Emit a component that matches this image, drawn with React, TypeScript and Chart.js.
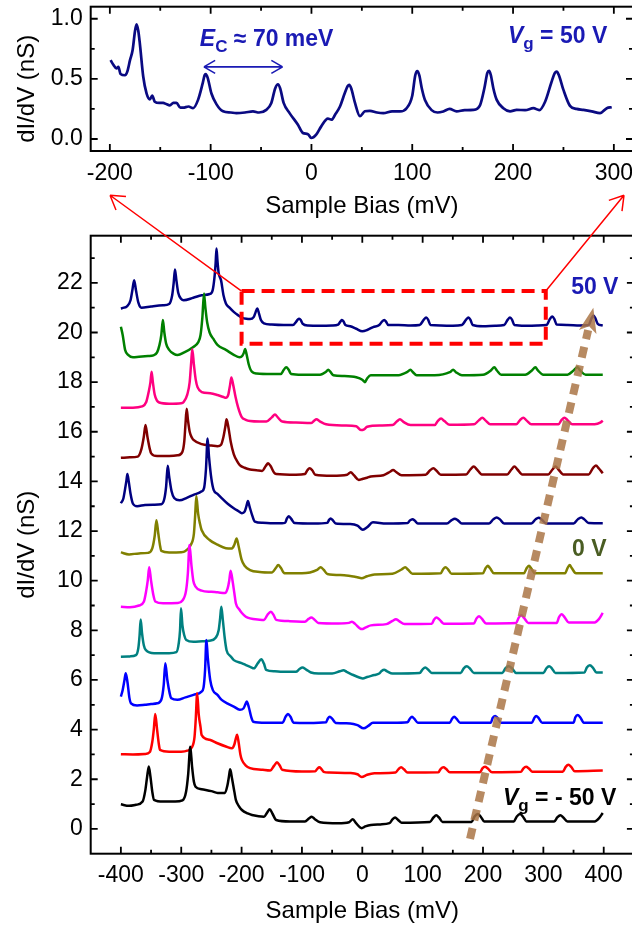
import React, { useEffect, useRef } from 'react';
import { Chart, registerables } from 'chart.js';

Chart.register(...registerables);

const FONT = '"Liberation Sans", Arial, Helvetica, sans-serif';
const TEXT_BLUE = '#1a1ab4';

// ---------- tick labels ----------
const topBiasTicks = [-200, -100, 0, 100, 200, 300];
const topDidvTicks = [0, 0.5, 1.0];
const bottomBiasTicks = [-400, -300, -200, -100, 0, 100, 200, 300, 400];
const bottomDidvTicks = [0, 2, 4, 6, 8, 10, 12, 14, 16, 18, 20, 22];

// ---------- top panel: Vg = 50 V (bias mV, dI/dV nS) ----------
const topVg50 = [
  [-199.3, 0.656], [-196.7, 0.62], [-193.4, 0.587], [-191.5, 0.6], [-189.4, 0.54], [-185, 0.53], [-182.7, 0.56],
  [-180, 0.656], [-177.4, 0.74], [-175, 0.9], [-173.5, 0.953], [-171.8, 0.9], [-170.2, 0.79], [-166.9, 0.52],
  [-163.6, 0.38], [-160.3, 0.33], [-158, 0.36], [-155.4, 0.31], [-151, 0.3], [-147.1, 0.3], [-144, 0.29],
  [-140.5, 0.28], [-137, 0.3], [-133.9, 0.3], [-130, 0.26], [-127.3, 0.26], [-122, 0.27], [-117.4, 0.256],
  [-112.5, 0.325], [-108, 0.46], [-106, 0.53], [-104.9, 0.54], [-103, 0.51], [-99.3, 0.38], [-94.3, 0.29],
  [-87.7, 0.23], [-80, 0.22], [-74.5, 0.215], [-66, 0.22], [-58, 0.23], [-52, 0.22], [-44.8, 0.242], [-39.8, 0.3],
  [-36, 0.42], [-33.2, 0.455], [-31, 0.42], [-27.6, 0.3], [-21.7, 0.215], [-13.4, 0.118], [-8.5, 0.05], [-3.5, 0.04],
  [-0.2, 0.008], [4.7, 0.036], [9.7, 0.105], [16.3, 0.17], [20, 0.16], [23.3, 0.2], [28.3, 0.27], [33, 0.38],
  [36, 0.44], [37.5, 0.45], [39.5, 0.42], [43.2, 0.3], [48.1, 0.19], [53, 0.23], [58, 0.234], [65, 0.22],
  [71.3, 0.215], [80, 0.23], [87.8, 0.229], [94.4, 0.256], [100, 0.36], [103, 0.53], [105, 0.565], [107, 0.53],
  [109.5, 0.42], [112.6, 0.325], [119.2, 0.24], [125, 0.22], [130.8, 0.229], [137, 0.25], [144, 0.229],
  [152, 0.24], [160.6, 0.242], [167.2, 0.28], [171.5, 0.42], [174.5, 0.55], [176.2, 0.567], [178, 0.53],
  [180.5, 0.42], [183.8, 0.325], [190.4, 0.256], [197, 0.23], [203.6, 0.242], [212, 0.24], [220.2, 0.256],
  [226, 0.24], [231.8, 0.31], [238, 0.47], [241.5, 0.55], [243.3, 0.56], [245.5, 0.53], [249.9, 0.41],
  [256.5, 0.275], [263, 0.25], [269.8, 0.242], [278, 0.23], [286.3, 0.215], [293, 0.256], [297.9, 0.264],
];

// ---------- bottom panel: gate-voltage series (bias mV, dI/dV nS incl. offset) ----------
const vgM50 = [
  [-400, 0.99], [-386.5, 0.93], [-375, 0.97], [-364, 1.1], [-359.5, 1.55], [-356.5, 2.1], [-353.8, 2.51], [-351, 2.1],
  [-348, 1.5], [-345.1, 1.17], [-330, 1.1], [-310, 1.1], [-298, 1.15], [-292, 1.5], [-288.5, 2.2], [-285, 3.31],
  [-282, 2.5], [-279, 1.9], [-276.3, 1.7], [-266.3, 1.6], [-250, 1.52], [-239.6, 1.45], [-227.6, 1.45], [-223.5, 1.75],
  [-221, 2.1], [-218.9, 2.4], [-216, 2.05], [-212, 1.5], [-209.5, 1.17], [-204, 0.9], [-199.5, 0.76], [-190, 0.62],
  [-182.8, 0.56], [-162.8, 0.49], [-157, 0.68], [-153.4, 0.79], [-149, 0.62], [-142.7, 0.36], [-120, 0.3], [-95, 0.3],
  [-88, 0.43], [-83.9, 0.49], [-79, 0.4], [-70, 0.27], [-40, 0.23], [-22, 0.27], [-15.8, 0.39], [-10, 0.22],
  [-1.1, 0.03], [5, 0.1], [14.2, 0.16], [30, 0.18], [45, 0.23], [50, 0.38], [54.4, 0.46], [59, 0.37], [65, 0.25],
  [112, 0.28], [118, 0.46], [122.5, 0.55], [127, 0.46], [133, 0.28], [181, 0.28], [186, 0.5], [191.3, 0.6], [196, 0.5],
  [202, 0.3], [251, 0.3], [256, 0.5], [261.4, 0.6], [266, 0.5], [272, 0.3], [318, 0.3], [323, 0.46], [328.2, 0.55],
  [333, 0.46], [340, 0.3], [385, 0.3], [392, 0.42], [398.4, 0.64],
];

const vgM40 = [
  [-400, 3.01], [-380, 3.0], [-360, 3.02], [-352, 3.1], [-348, 3.5], [-345.5, 4.0], [-343.1, 4.63], [-340, 4.0],
  [-337, 3.4], [-335.1, 3.18], [-320, 3.11], [-300, 3.11], [-290, 3.15], [-282, 3.3], [-278, 3.7], [-276, 4.4],
  [-273.6, 5.46], [-271, 4.6], [-268, 4.1], [-266.3, 3.79], [-253, 3.59], [-240, 3.45], [-226, 3.32], [-216, 3.25],
  [-212, 3.4], [-209.5, 3.65], [-207.5, 3.79], [-205, 3.5], [-202, 3.0], [-199.5, 2.78], [-193, 2.55], [-186, 2.45],
  [-165, 2.38], [-152.7, 2.35], [-146, 2.55], [-141.4, 2.68], [-137, 2.56], [-132.7, 2.38], [-100, 2.31], [-78, 2.32],
  [-74.5, 2.42], [-71.2, 2.48], [-68, 2.42], [-64, 2.3], [-55, 2.27], [-20, 2.25], [-8, 2.2], [-1.1, 2.09], [8, 2.18],
  [20, 2.24], [55, 2.27], [60, 2.41], [64.4, 2.48], [69, 2.4], [75, 2.27], [126, 2.28], [130, 2.42], [134.5, 2.48],
  [139, 2.41], [145, 2.28], [195, 2.28], [199, 2.44], [203.3, 2.5], [208, 2.43], [215, 2.28], [263, 2.3], [267, 2.44],
  [271.4, 2.5], [276, 2.43], [282, 2.3], [332, 2.3], [337, 2.5], [341.6, 2.58], [346, 2.5], [352, 2.32], [398.4, 2.35],
];

const vgM30 = [
  [-400, 5.33], [-397, 5.6], [-394, 6.0], [-391.9, 6.27], [-389, 5.9], [-386, 5.3], [-383.2, 5.06], [-373.2, 4.97],
  [-360, 5.0], [-350, 5.03], [-339.8, 5.06], [-333, 5.2], [-329, 5.8], [-326.4, 6.67], [-323, 6.0], [-319, 5.45],
  [-316.4, 5.26], [-306.4, 5.2], [-293, 5.3], [-279.7, 5.4], [-266.3, 5.53], [-263, 5.7], [-260.5, 6.4], [-258.3, 7.61],
  [-256, 6.9], [-252, 6.0], [-247.6, 5.59], [-240, 5.4], [-233, 5.2], [-223, 5.05], [-212.9, 4.93], [-202.9, 4.8],
  [-197, 4.85], [-194, 5.0], [-191.5, 5.13], [-188, 4.9], [-184, 4.5], [-180.8, 4.32], [-160, 4.28], [-132, 4.28],
  [-127, 4.52], [-123.3, 4.63], [-119, 4.52], [-114, 4.28], [-90, 4.27], [-60, 4.3], [-57, 4.45], [-53.9, 4.52],
  [-50, 4.44], [-44, 4.27], [-20, 4.25], [-8, 4.18], [2.2, 4.05], [10, 4.15], [17.6, 4.28], [50, 4.28], [75, 4.3],
  [79, 4.45], [82.4, 4.52], [86, 4.44], [92, 4.28], [145, 4.28], [149, 4.45], [152.5, 4.52], [156, 4.44], [162, 4.28],
  [213, 4.28], [216, 4.47], [220, 4.55], [224, 4.47], [230, 4.28], [281, 4.28], [285, 4.47], [288.1, 4.55], [292, 4.47],
  [298, 4.28], [350, 4.28], [353, 4.5], [356.9, 4.59], [361, 4.5], [367, 4.28], [398.4, 4.28],
];

const vgM20 = [
  [-400, 6.94], [-385, 6.95], [-375, 7.0], [-371, 7.3], [-369, 7.8], [-367.2, 8.44], [-365, 7.9], [-362, 7.4],
  [-358.5, 7.2], [-345, 7.08], [-320, 7.08], [-308, 7.12], [-304, 7.5], [-302, 8.0], [-300.4, 8.89], [-298, 8.2],
  [-295, 7.8], [-291.7, 7.61], [-279.7, 7.54], [-265, 7.56], [-253, 7.58], [-243, 7.7], [-238, 8.0], [-235.5, 8.5],
  [-233.6, 8.95], [-231, 8.4], [-228, 7.7], [-224.9, 7.2], [-218, 6.95], [-212.9, 6.8], [-200, 6.68], [-192.8, 6.6],
  [-185, 6.52], [-179.5, 6.47], [-173, 6.68], [-167.4, 6.83], [-163, 6.66], [-159.4, 6.41], [-145, 6.35],
  [-132.7, 6.33], [-110, 6.33], [-104, 6.44], [-99.3, 6.5], [-93, 6.42], [-85, 6.3], [-72.6, 6.26], [-50, 6.26],
  [-37, 6.35], [-31.2, 6.39], [-26, 6.33], [-15, 6.2], [-5, 6.1], [0.9, 6.06], [8, 6.12], [20, 6.2], [28, 6.26],
  [32, 6.36], [36.3, 6.41], [41, 6.35], [50, 6.26], [95, 6.28], [100, 6.43], [104.4, 6.5], [109, 6.42], [115, 6.28],
  [163, 6.28], [168, 6.47], [173.2, 6.55], [178, 6.47], [185, 6.28], [232, 6.28], [237, 6.47], [242.7, 6.55],
  [248, 6.47], [255, 6.28], [300, 6.28], [305, 6.47], [309.5, 6.55], [314, 6.47], [320, 6.28], [368, 6.3],
  [372, 6.5], [377, 6.59], [382, 6.5], [388, 6.3], [398.4, 6.3],
];

const vgM10 = [
  [-400, 8.95], [-385, 8.93], [-370, 9.0], [-362, 9.15], [-358, 9.6], [-355.5, 10.0], [-353.1, 10.54], [-350, 10.0],
  [-346, 9.4], [-343, 9.16], [-330, 9.09], [-306, 9.1], [-298, 9.2], [-292, 9.6], [-289, 10.3], [-286.3, 11.44],
  [-283, 10.6], [-280, 10.0], [-276.3, 9.76], [-266.3, 9.6], [-250, 9.55], [-239.6, 9.53], [-227.6, 9.5], [-223, 9.7],
  [-220.5, 10.0], [-218.2, 10.4], [-215, 10.0], [-212, 9.5], [-209.5, 9.09], [-204, 8.85], [-199.5, 8.7], [-193, 8.55],
  [-186, 8.48], [-170, 8.43], [-162.8, 8.42], [-157, 8.63], [-151.4, 8.75], [-147, 8.62], [-142.7, 8.42], [-120, 8.37],
  [-95, 8.35], [-89, 8.46], [-84.6, 8.52], [-80, 8.45], [-73, 8.3], [-40, 8.28], [-22, 8.3], [-17.1, 8.35],
  [-12, 8.26], [-1.1, 8.05], [6, 8.12], [14.2, 8.2], [40, 8.25], [50, 8.38], [55.7, 8.45], [61, 8.37], [70, 8.25],
  [115, 8.26], [119, 8.44], [123.1, 8.52], [128, 8.43], [135, 8.27], [185, 8.28], [189, 8.47], [193.3, 8.57],
  [198, 8.47], [205, 8.28], [255, 8.3], [259, 8.5], [263.4, 8.61], [268, 8.5], [275, 8.3], [322, 8.3], [326, 8.53],
  [330.2, 8.65], [335, 8.53], [342, 8.32], [385, 8.32], [392, 8.45], [398.4, 8.7],
];

const vg0 = [
  [-400, 11.14], [-386.5, 11.06], [-370, 11.1], [-355, 11.12], [-348, 11.3], [-344, 11.8], [-341.1, 12.44],
  [-338, 11.9], [-335, 11.4], [-333, 11.2], [-320, 11.14], [-300, 11.15], [-293, 11.2], [-284, 11.45], [-279, 11.9],
  [-277, 12.6], [-275, 13.41], [-272, 12.7], [-269, 12.3], [-266.3, 12.04], [-253, 11.64], [-240, 11.45],
  [-226, 11.31], [-216, 11.3], [-212, 11.45], [-208.2, 11.7], [-205, 11.4], [-200, 10.85], [-195, 10.6],
  [-186, 10.43], [-170, 10.35], [-150, 10.33], [-143, 10.52], [-139.4, 10.63], [-135, 10.52], [-129, 10.3],
  [-100, 10.3], [-74, 10.45], [-69.2, 10.54], [-64, 10.44], [-58, 10.27], [-30, 10.22], [-10, 10.15], [-1.1, 10.1],
  [8, 10.18], [20, 10.25], [50, 10.28], [65, 10.45], [71, 10.54], [76, 10.44], [83, 10.28], [130, 10.3], [134, 10.46],
  [137.8, 10.54], [142, 10.46], [148, 10.28], [200, 10.3], [204, 10.49], [207.9, 10.6], [212, 10.49], [218, 10.3],
  [268, 10.3], [272, 10.49], [276.1, 10.6], [280, 10.49], [286, 10.3], [336, 10.3], [340, 10.51], [343.6, 10.63],
  [347, 10.51], [354, 10.3], [398.4, 10.3],
];

const vg10 = [
  [-400, 13.12], [-396, 13.3], [-393, 13.7], [-391, 14.0], [-389.2, 14.3], [-387, 14.0], [-384, 13.5], [-380, 13.1],
  [-373, 13.0], [-360, 13.05], [-345, 13.06], [-333, 13.08], [-328, 13.3], [-325, 13.8], [-322.4, 14.63],
  [-320, 14.2], [-316, 13.6], [-311.7, 13.33], [-303, 13.24], [-290, 13.35], [-279.7, 13.46], [-266, 13.6],
  [-262, 13.75], [-259, 14.5], [-256.3, 15.73], [-254, 15.0], [-250, 14.1], [-246.3, 13.66], [-240, 13.5],
  [-233, 13.33], [-223, 13.1], [-213, 12.92], [-205, 12.8], [-199.5, 12.72], [-195, 12.78], [-192, 13.0],
  [-189.5, 13.21], [-187, 13.0], [-182, 12.6], [-178, 12.38], [-165, 12.33], [-140, 12.31], [-128, 12.33],
  [-125, 12.5], [-122, 12.6], [-118, 12.5], [-112, 12.32], [-80, 12.3], [-58, 12.33], [-55, 12.45], [-52.5, 12.51],
  [-49, 12.44], [-44, 12.3], [-20, 12.28], [-8, 12.22], [0.9, 12.05], [8, 12.15], [17.6, 12.35], [40, 12.3],
  [75, 12.32], [79, 12.43], [83, 12.48], [87, 12.42], [92, 12.3], [140, 12.3], [148, 12.44], [153.2, 12.5],
  [158, 12.44], [165, 12.3], [210, 12.3], [217, 12.47], [222.7, 12.55], [228, 12.47], [235, 12.3], [280, 12.3],
  [287, 12.47], [292.1, 12.54], [297, 12.47], [305, 12.3], [350, 12.3], [357, 12.47], [363, 12.55], [368, 12.47],
  [375, 12.32], [398.4, 12.31],
];

const vg20 = [
  [-400, 14.95], [-385, 14.97], [-372, 15.0], [-366, 15.3], [-362, 15.8], [-359.2, 16.27], [-356, 15.8],
  [-352, 15.3], [-349.8, 15.13], [-340, 15.02], [-320, 15.02], [-306, 15.05], [-298, 15.2], [-295, 15.6],
  [-293, 16.3], [-291, 16.93], [-289, 16.5], [-286, 16.0], [-282, 15.75], [-279.7, 15.67], [-266, 15.5],
  [-250, 15.45], [-240, 15.42], [-234, 15.48], [-230, 15.8], [-227, 16.2], [-224.9, 16.5], [-222, 16.2],
  [-218, 15.6], [-213, 15.1], [-207, 14.8], [-203, 14.66], [-195, 14.55], [-186, 14.48], [-175, 14.45],
  [-166, 14.42], [-160, 14.62], [-156.1, 14.73], [-152, 14.62], [-146, 14.35], [-142.7, 14.3], [-110, 14.27],
  [-95, 14.3], [-91, 14.45], [-87.3, 14.53], [-83, 14.45], [-78, 14.27], [-50, 14.23], [-25, 14.27], [-19.2, 14.37],
  [-14, 14.25], [-5.8, 14.06], [0, 14.1], [8, 14.15], [14, 14.2], [35, 14.25], [46, 14.39], [51, 14.46], [56, 14.38],
  [65, 14.25], [105, 14.27], [112, 14.44], [117.8, 14.53], [123, 14.43], [130, 14.27], [172, 14.28], [179, 14.48],
  [184.6, 14.6], [190, 14.48], [198, 14.28], [240, 14.28], [247, 14.48], [252, 14.6], [257, 14.48], [265, 14.28],
  [308, 14.28], [315, 14.48], [320, 14.6], [325, 14.48], [333, 14.28], [375, 14.28], [382, 14.53], [387, 14.64],
  [392, 14.52], [398.4, 14.33],
];

const vg30 = [
  [-400, 16.97], [-380, 16.97], [-365, 17.02], [-358, 17.2], [-354, 17.6], [-351, 18.0], [-349.1, 18.42],
  [-347, 18.0], [-344, 17.5], [-340, 17.25], [-336.5, 17.18], [-320, 17.13], [-300, 17.15], [-296, 17.2],
  [-290, 17.5], [-286, 18.0], [-283.5, 18.8], [-281.7, 19.32], [-279, 18.7], [-276, 18.1], [-273, 17.8],
  [-266, 17.6], [-252, 17.55], [-240, 17.48], [-230, 17.4], [-226, 17.37], [-222, 17.5], [-219, 17.9],
  [-216.9, 18.19], [-214, 17.9], [-210, 17.4], [-206, 17.0], [-200, 16.6], [-193, 16.48], [-186, 16.43],
  [-170, 16.41], [-159, 16.41], [-150, 16.58], [-144.7, 16.7], [-140, 16.58], [-132.7, 16.41], [-110, 16.37],
  [-85, 16.35], [-80, 16.44], [-75.9, 16.5], [-71, 16.43], [-60, 16.3], [-30, 16.25], [-10, 16.22], [-2.4, 16.07],
  [3, 16.1], [8, 16.2], [30, 16.25], [50, 16.27], [57, 16.41], [62.4, 16.5], [68, 16.4], [80, 16.27], [120, 16.27],
  [125, 16.43], [130.5, 16.53], [136, 16.43], [145, 16.28], [185, 16.3], [193, 16.46], [198.8, 16.57], [204, 16.46],
  [212, 16.3], [255, 16.3], [261, 16.46], [266.8, 16.57], [272, 16.46], [280, 16.3], [325, 16.3], [330, 16.47],
  [335, 16.57], [340, 16.47], [348, 16.3], [385, 16.3], [395, 16.38], [398.4, 16.45],
];

const vg40 = [
  [-400, 20.23], [-397, 19.9], [-393, 19.3], [-388, 19.1], [-380, 19.0], [-370, 19.02], [-355, 19.05],
  [-346, 19.08], [-340, 19.2], [-336, 19.5], [-333, 19.9], [-330.4, 20.5], [-328, 20.0], [-325, 19.55], [-320, 19.3],
  [-313, 19.15], [-306, 19.09], [-295, 19.2], [-280, 19.42], [-272, 19.6], [-268, 19.9], [-265, 20.6],
  [-262.3, 21.57], [-260, 21.0], [-257, 20.4], [-253, 20.0], [-247, 19.75], [-240, 19.5], [-226, 19.3],
  [-213, 19.1], [-203, 19.0], [-199, 19.05], [-196, 19.2], [-194.2, 19.33], [-192, 19.15], [-188, 18.7],
  [-183, 18.42], [-175, 18.35], [-150, 18.33], [-135, 18.33], [-130, 18.5], [-126, 18.6], [-122, 18.5],
  [-118, 18.33], [-100, 18.3], [-70, 18.3], [-60, 18.42], [-56.5, 18.5], [-53, 18.42], [-48, 18.28], [-30, 18.25],
  [-10, 18.2], [0, 18.1], [4.2, 18.0], [8, 18.15], [14, 18.28], [30, 18.28], [60, 18.28], [74, 18.4], [79.7, 18.5],
  [84, 18.4], [90, 18.28], [120, 18.28], [145, 18.4], [150.5, 18.5], [155, 18.4], [165, 18.28], [200, 18.3],
  [213, 18.47], [218.7, 18.6], [223, 18.47], [230, 18.3], [270, 18.3], [281, 18.47], [286.8, 18.6], [291, 18.47],
  [300, 18.3], [340, 18.3], [350, 18.47], [356.3, 18.6], [361, 18.47], [370, 18.3], [398.4, 18.3],
];

const vg50 = [
  [-400, 20.97], [-395, 21.0], [-390, 21.05], [-384, 21.3], [-381, 21.7], [-378, 22.11], [-375, 21.7], [-371, 21.2],
  [-366, 21.0], [-350, 21.05], [-330, 21.1], [-320, 21.15], [-315, 21.5], [-312.5, 22.0], [-310.4, 22.54],
  [-308, 22.1], [-305, 21.6], [-300, 21.35], [-296, 21.3], [-280, 21.4], [-266, 21.5], [-253, 21.55], [-248, 21.7],
  [-245, 22.2], [-243, 22.8], [-241.6, 23.38], [-240, 22.9], [-238, 22.4], [-234, 22.1], [-230, 21.5], [-226, 21.17],
  [-220, 21.0], [-213, 20.83], [-206, 20.7], [-199.5, 20.6], [-192, 20.55], [-186, 20.54], [-180, 20.62],
  [-177, 20.8], [-174, 20.97], [-171, 20.75], [-168, 20.5], [-163, 20.37], [-150, 20.32], [-130, 20.3],
  [-115, 20.3], [-110, 20.42], [-107, 20.52], [-104.6, 20.55], [-102, 20.5], [-99, 20.36], [-90, 20.28],
  [-70, 20.27], [-50, 20.28], [-40, 20.32], [-36, 20.45], [-33.8, 20.5], [-31, 20.44], [-28, 20.3], [-20, 20.25],
  [-10, 20.15], [0, 20.05], [8, 20.1], [18, 20.22], [28, 20.3], [33, 20.45], [36.3, 20.5], [39, 20.45], [43, 20.3],
  [60, 20.3], [80, 20.28], [95, 20.3], [102, 20.52], [105.8, 20.6], [109, 20.52], [113, 20.3], [130, 20.28],
  [150, 20.27], [165, 20.3], [172, 20.52], [175.9, 20.6], [179, 20.52], [183, 20.3], [200, 20.25], [220, 20.27],
  [235, 20.3], [241, 20.52], [244.7, 20.6], [248, 20.52], [252, 20.3], [270, 20.27], [290, 20.28], [305, 20.3],
  [311, 20.55], [314.9, 20.64], [318, 20.55], [322, 20.32], [340, 20.3], [360, 20.28], [375, 20.3], [380, 20.58],
  [383, 20.68], [386, 20.58], [390, 20.35], [398.4, 20.28],
];

const gateSeries = [
  { label: 'Vg = -50 V', points: vgM50, color: '#000000' },
  { label: 'Vg = -40 V', points: vgM40, color: '#ff0000' },
  { label: 'Vg = -30 V', points: vgM30, color: '#0000ff' },
  { label: 'Vg = -20 V', points: vgM20, color: '#008080' },
  { label: 'Vg = -10 V', points: vgM10, color: '#ff00ff' },
  { label: 'Vg = 0 V', points: vg0, color: '#808000' },
  { label: 'Vg = 10 V', points: vg10, color: '#000080' },
  { label: 'Vg = 20 V', points: vg20, color: '#800000' },
  { label: 'Vg = 30 V', points: vg30, color: '#ff0080' },
  { label: 'Vg = 40 V', points: vg40, color: '#008000' },
  { label: 'Vg = 50 V', points: vg50, color: '#000080' },
];

// ---------- annotation anchors (data coordinates) ----------
const ecArrow = { x1: -106.7, x2: -28.6, y: 0.6 };
const ecLabelPos = { x: -110.7, y: 0.776 };
const vgTopLabelPos = { x: 195, y: 0.8 };
const zoomBox = { x1: -200, x2: 304, y1: 19.55, y2: 21.67 };
const zoomArrowTips = { left: { x: -418, y: 25.53 }, right: { x: 433.6, y: 25.53 } };
const trendArrow = { x1: 178.5, y1: -0.4, x2: 382.8, y2: 21.0 };
const label50 = { x: 346, y: 21.57 };
const label0 = { x: 347.6, y: 10.99 };
const labelM50 = { x: 233.1, y: 0.97 };

// ---------- helpers ----------
function makeAxis(opts: {
  min: number; max: number; ticks: number[]; fmt: (v: number) => string; horizontal: boolean;
  size: number; padding: number; title?: string; titlePad?: any;
}) {
  const { min, max, ticks, fmt, horizontal, size, padding, title, titlePad } = opts;
  return {
    type: 'linear',
    min,
    max,
    grid: { display: false, drawTicks: false },
    border: { display: false },
    ticks: {
      font: { family: FONT, size: 23 },
      color: '#000',
      padding,
      autoSkip: false,
      maxRotation: 0,
      minRotation: 0,
      includeBounds: false,
      callback: (v: any) => fmt(Number(v)),
    },
    afterBuildTicks: (s: any) => {
      s.ticks = ticks.map((v) => ({ value: v }));
    },
    afterFit: (s: any) => {
      if (horizontal) {
        s.height = size;
        s.paddingLeft = 0;
        s.paddingRight = 0;
      } else {
        s.width = size;
        s.paddingTop = 0;
        s.paddingBottom = 0;
      }
    },
    title: title
      ? { display: true, text: title, color: '#000', font: { family: FONT, size: 24 }, padding: titlePad }
      : { display: false },
  };
}

function framePlugin(xMajor: number[], yMajor: number[]) {
  const minors = (maj: number[], lo: number, hi: number) => {
    const step = maj[1] - maj[0];
    const out: number[] = [];
    for (let i = -1; i < maj.length; i++) {
      const v = (i < 0 ? maj[0] - step : maj[i]) + step / 2;
      if (v > lo + 1e-9 && v < hi - 1e-9) out.push(v);
    }
    return out;
  };
  return {
    id: 'frameTicks',
    afterDraw(chart: any) {
      const { ctx, chartArea: a } = chart;
      const sx = chart.scales.x;
      const sy = chart.scales.y;
      ctx.save();
      ctx.strokeStyle = '#000';
      ctx.lineWidth = 1.8;
      const xt = (vals: number[], len: number) => {
        for (const v of vals) {
          const p = sx.getPixelForValue(v);
          ctx.beginPath();
          ctx.moveTo(p, a.bottom);
          ctx.lineTo(p, a.bottom - len);
          ctx.moveTo(p, a.top);
          ctx.lineTo(p, a.top + len);
          ctx.stroke();
        }
      };
      const yt = (vals: number[], len: number) => {
        for (const v of vals) {
          const p = sy.getPixelForValue(v);
          ctx.beginPath();
          ctx.moveTo(a.left, p);
          ctx.lineTo(a.left + len, p);
          ctx.moveTo(a.right, p);
          ctx.lineTo(a.right - len, p);
          ctx.stroke();
        }
      };
      xt(xMajor, 7);
      xt(minors(xMajor, sx.min, sx.max), 4);
      yt(yMajor, 7);
      yt(minors(yMajor, sy.min, sy.max), 4);
      ctx.lineWidth = 2;
      ctx.strokeRect(a.left, a.top, a.right - a.left, a.bottom - a.top);
      ctx.restore();
    },
  };
}

function drawRich(ctx: CanvasRenderingContext2D, x: number, y: number, parts: { t: string; f: string; dy?: number }[], color: string) {
  ctx.fillStyle = color;
  ctx.textBaseline = 'alphabetic';
  ctx.textAlign = 'left';
  let cx = x;
  for (const p of parts) {
    ctx.font = p.f;
    ctx.fillText(p.t, cx, y + (p.dy || 0));
    cx += ctx.measureText(p.t).width;
  }
}

function arrowArms(ctx: CanvasRenderingContext2D, tx: number, ty: number, fx: number, fy: number, len: number, ang: number) {
  const dx = fx - tx;
  const dy = fy - ty;
  const d = Math.hypot(dx, dy);
  const ux = dx / d;
  const uy = dy / d;
  for (const s of [1, -1]) {
    const c = Math.cos(s * ang);
    const sn = Math.sin(s * ang);
    const rx = ux * c - uy * sn;
    const ry = ux * sn + uy * c;
    ctx.moveTo(tx, ty);
    ctx.lineTo(tx + rx * len, ty + ry * len);
  }
}

const B = `bold 23px ${FONT}`;
const BI = `italic bold 23px ${FONT}`;
const BS = `bold 17px ${FONT}`;

const topAnnotPlugin = {
  id: 'topAnnot',
  afterDraw(chart: any) {
    const { ctx, chartArea: a } = chart;
    const sx = chart.scales.x;
    const sy = chart.scales.y;
    ctx.save();
    // y-axis title
    ctx.save();
    ctx.translate(27, (a.top + a.bottom) / 2 + 10);
    ctx.rotate(-Math.PI / 2);
    ctx.font = `24px ${FONT}`;
    ctx.fillStyle = '#000';
    ctx.textAlign = 'center';
    ctx.textBaseline = 'middle';
    ctx.fillText('dI/dV (nS)', 0, 0);
    ctx.restore();
    // E_C label
    drawRich(ctx, sx.getPixelForValue(ecLabelPos.x), sy.getPixelForValue(ecLabelPos.y), [
      { t: 'E', f: BI },
      { t: 'C', f: BS, dy: 6 },
      { t: ' \u2248 70 meV', f: B },
    ], TEXT_BLUE);
    // Vg label
    drawRich(ctx, sx.getPixelForValue(vgTopLabelPos.x), sy.getPixelForValue(vgTopLabelPos.y), [
      { t: 'V', f: BI },
      { t: 'g', f: BS, dy: 6 },
      { t: ' = 50 V', f: B },
    ], TEXT_BLUE);
    // double arrow
    const x1 = sx.getPixelForValue(ecArrow.x1);
    const x2 = sx.getPixelForValue(ecArrow.x2);
    const y = sy.getPixelForValue(ecArrow.y);
    ctx.strokeStyle = TEXT_BLUE;
    ctx.lineWidth = 1.6;
    ctx.beginPath();
    ctx.moveTo(x1, y);
    ctx.lineTo(x2, y);
    arrowArms(ctx, x1, y, x2, y, 13, Math.PI / 6);
    arrowArms(ctx, x2, y, x1, y, 13, Math.PI / 6);
    ctx.stroke();
    ctx.restore();
  },
};

const bottomArrowPlugin = {
  id: 'trendArrow',
  afterDatasetsDraw(chart: any) {
    const { ctx } = chart;
    const sx = chart.scales.x;
    const sy = chart.scales.y;
    const x1 = sx.getPixelForValue(trendArrow.x1);
    const y1 = sy.getPixelForValue(trendArrow.y1);
    const x2 = sx.getPixelForValue(trendArrow.x2);
    const y2 = sy.getPixelForValue(trendArrow.y2);
    const d = Math.hypot(x2 - x1, y2 - y1);
    const ux = (x2 - x1) / d;
    const uy = (y2 - y1) / d;
    const nx = -uy;
    const ny = ux;
    const L = 25;
    const W = 9;
    const notch = 6;
    ctx.save();
    ctx.globalAlpha = 0.85;
    ctx.strokeStyle = '#aa7646';
    ctx.fillStyle = '#aa7646';
    ctx.lineWidth = 8;
    ctx.lineCap = 'butt';
    ctx.setLineDash([11, 8]);
    ctx.beginPath();
    ctx.moveTo(x1, y1);
    ctx.lineTo(x2 - ux * (L - notch + 4), y2 - uy * (L - notch + 4));
    ctx.stroke();
    ctx.setLineDash([]);
    ctx.beginPath();
    ctx.moveTo(x2, y2);
    ctx.lineTo(x2 - ux * L + nx * W, y2 - uy * L + ny * W);
    ctx.lineTo(x2 - ux * (L - notch), y2 - uy * (L - notch));
    ctx.lineTo(x2 - ux * L - nx * W, y2 - uy * L - ny * W);
    ctx.closePath();
    ctx.fill();
    ctx.restore();
  },
  afterDraw(chart: any) {
    const { ctx } = chart;
    const sx = chart.scales.x;
    const sy = chart.scales.y;
    ctx.save();
    // red dashed zoom box
    const bx1 = sx.getPixelForValue(zoomBox.x1);
    const bx2 = sx.getPixelForValue(zoomBox.x2);
    const by1 = sy.getPixelForValue(zoomBox.y2);
    const by2 = sy.getPixelForValue(zoomBox.y1);
    ctx.strokeStyle = '#ff0000';
    ctx.lineWidth = 4;
    ctx.setLineDash([13, 7]);
    ctx.strokeRect(bx1, by1, bx2 - bx1, by2 - by1);
    ctx.setLineDash([]);
    // red lines with arrowheads to the top panel
    ctx.lineWidth = 1.5;
    const lt = { x: sx.getPixelForValue(zoomArrowTips.left.x), y: sy.getPixelForValue(zoomArrowTips.left.y) };
    const rt = { x: sx.getPixelForValue(zoomArrowTips.right.x), y: sy.getPixelForValue(zoomArrowTips.right.y) };
    ctx.beginPath();
    ctx.moveTo(bx1, by1);
    ctx.lineTo(lt.x, lt.y);
    arrowArms(ctx, lt.x, lt.y, bx1, by1, 16, (32 * Math.PI) / 180);
    ctx.moveTo(bx2, by1);
    ctx.lineTo(rt.x, rt.y);
    arrowArms(ctx, rt.x, rt.y, bx2, by1, 16, (32 * Math.PI) / 180);
    ctx.stroke();
    // labels
    drawRich(ctx, sx.getPixelForValue(label50.x), sy.getPixelForValue(label50.y), [{ t: '50 V', f: B }], TEXT_BLUE);
    drawRich(ctx, sx.getPixelForValue(label0.x), sy.getPixelForValue(label0.y), [{ t: '0 V', f: B }], '#4a5d23');
    drawRich(ctx, sx.getPixelForValue(labelM50.x), sy.getPixelForValue(labelM50.y), [
      { t: 'V', f: BI },
      { t: 'g', f: BS, dy: 6 },
      { t: ' = - 50 V', f: B },
    ], '#000');
    ctx.restore();
  },
};

export default function App() {
  const topRef = useRef<HTMLCanvasElement>(null);
  const botRef = useRef<HTMLCanvasElement>(null);

  useEffect(() => {
    const topChart = new Chart(topRef.current as HTMLCanvasElement, {
      type: 'line',
      data: {
        datasets: [
          {
            label: 'Vg = 50 V',
            data: topVg50.map(([x, y]) => ({ x, y })),
            borderColor: '#0a0a82',
            borderWidth: 2.7,
            pointRadius: 0,
            cubicInterpolationMode: 'monotone',
            fill: false,
          },
        ],
      },
      options: {
        responsive: false,
        animation: false,
        devicePixelRatio: 1,
        layout: { padding: { left: 0, top: 6.7, right: 7, bottom: 0 } },
        plugins: { legend: { display: false }, tooltip: { enabled: false } },
        scales: {
          x: makeAxis({
            min: -219, max: 319, ticks: topBiasTicks, fmt: (v) => String(v), horizontal: true,
            size: 79, padding: 9, title: 'Sample Bias (mV)', titlePad: { top: 0, bottom: 9 },
          }) as any,
          y: makeAxis({
            min: -0.1, max: 1.1, ticks: topDidvTicks, fmt: (v) => v.toFixed(1), horizontal: false,
            size: 90.7, padding: 8,
          }) as any,
        },
      },
      plugins: [framePlugin(topBiasTicks, topDidvTicks), topAnnotPlugin],
    });

    const botChart = new Chart(botRef.current as HTMLCanvasElement, {
      type: 'line',
      data: {
        datasets: gateSeries.map((s) => ({
          label: s.label,
          data: s.points.map(([x, y]) => ({ x, y })),
          borderColor: s.color,
          borderWidth: 2.5,
          pointRadius: 0,
          cubicInterpolationMode: 'monotone',
          fill: false,
        })),
      },
      options: {
        responsive: false,
        animation: false,
        devicePixelRatio: 1,
        layout: { padding: { left: 0, top: 55.7, right: 6.1, bottom: 0 } },
        plugins: { legend: { display: false }, tooltip: { enabled: false } },
        scales: {
          x: makeAxis({
            min: -450, max: 450, ticks: bottomBiasTicks, fmt: (v) => String(v), horizontal: true,
            size: 74.3, padding: 8, title: 'Sample Bias (mV)', titlePad: { top: 0, bottom: 2 },
          }) as any,
          y: makeAxis({
            min: -1, max: 23.9, ticks: bottomDidvTicks, fmt: (v) => String(v), horizontal: false,
            size: 90.7, padding: 8, title: 'dI/dV (nS)', titlePad: { top: 12.6, bottom: 0 },
          }) as any,
        },
      },
      plugins: [framePlugin(bottomBiasTicks, bottomDidvTicks), bottomArrowPlugin],
    });

    return () => {
      topChart.destroy();
      botChart.destroy();
    };
  }, []);

  return (
    <div
      style={{
        position: 'absolute',
        left: 0,
        top: 0,
        width: 632,
        height: 928,
        overflow: 'hidden',
        background: '#ffffff',
      }}
    >
      <canvas
        ref={topRef}
        width={640}
        height={230}
        style={{ position: 'absolute', left: 0, top: 0, width: 640, height: 230 }}
      />
      <canvas
        ref={botRef}
        width={640}
        height={748}
        style={{ position: 'absolute', left: 0, top: 180, width: 640, height: 748 }}
      />
    </div>
  );
}
